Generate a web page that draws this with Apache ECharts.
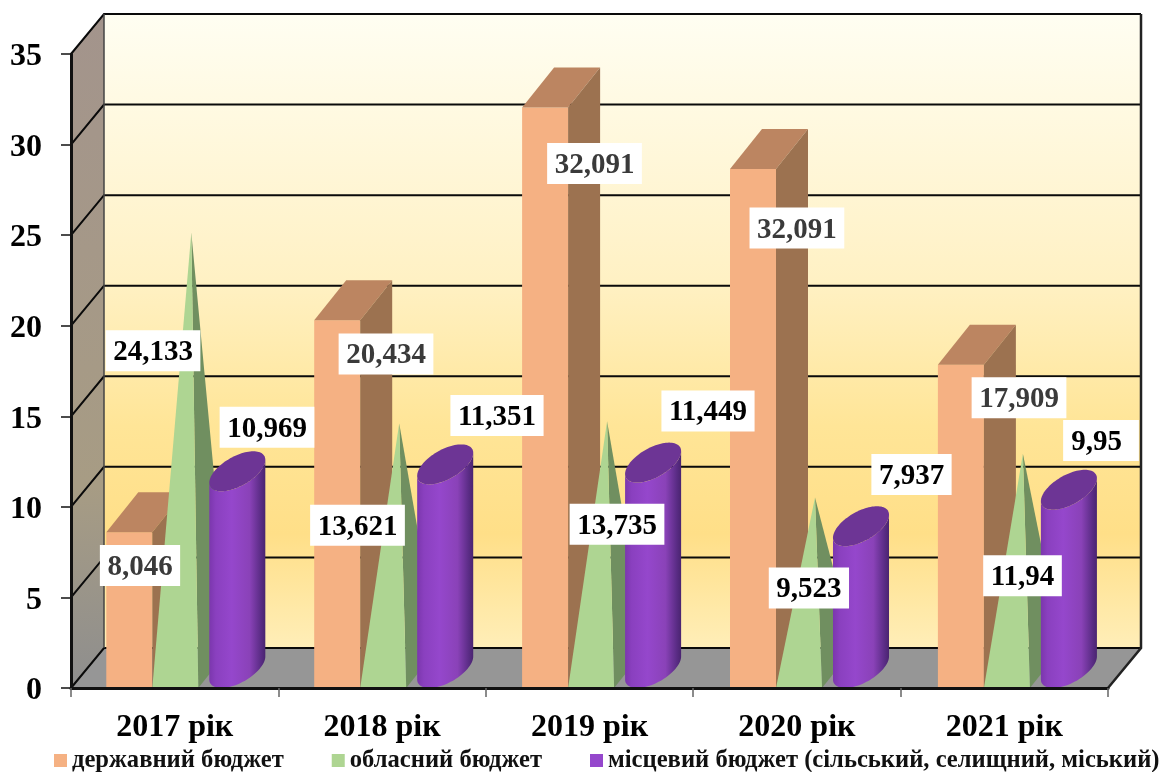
<!DOCTYPE html>
<html><head><meta charset="utf-8">
<style>html,body{margin:0;padding:0;background:#fff}#c{width:1162px;height:772px}</style>
<script src="https://cdn.jsdelivr.net/npm/echarts@6/dist/echarts.min.js"></script>
</head><body><div id="c"></div>
<script>
// ---- data ----
const categories = ['2017 рік','2018 рік','2019 рік','2020 рік','2021 рік'];
const seriesNames = ['державний бюджет','обласний бюджет','місцевий бюджет (сільський, селищний, міський)'];
const stateBudget = [8.6, 20.3, 32.05, 28.65, 17.85];
const regionalBudget = [24.133, 13.621, 13.735, 9.523, 11.94];
const localBudget = [10.969, 11.351, 11.449, 7.937, 9.95];
const stateLabels = ['8,046','20,434','32,091','32,091','17,909'];
const regionalLabels = ['24,133','13,621','13,735','9,523','11,94'];
const localLabels = ['10,969','11,351','11,449','7,937','9,95'];
const yTicks = [0,5,10,15,20,25,30,35];

// ---- layout (label offsets are from the band centre / value point) ----
const stateLabelOffset = [[-34.7,33.3],[3.9,33.7],[5,56],[0,59],[14.7,33]];
const regionalLabelOffset = [[-21.7,100],[-24.6,84],[27.5,85],[12,72.5],[18.2,104]];
const localLabelOffset = [[92.3,-62],[114.9,-67],[118.5,-69.6],[114.6,-69.7],[96.7,-67.3,17]];
const DX = 32, DY = 40, WALL_DX = 33, BAR_W = 46, LEFT_PAD = 35.3, BAND_DRIFT = 0.5;
const FONT = '"Liberation Serif","Times New Roman",serif';
const LABEL_FONT = 'bold 29px '+FONT, LABEL_BOX_H = 41, LABEL_TEXT_DROP = 2;
const measureCtx = document.createElement('canvas').getContext('2d');

function poly(points, fill){
  return {type:'polygon', shape:{points}, style:{fill}, silent:true};
}
function frame(api){
  const i = api.value(0), v = api.value(1);
  const band = api.size([1,0])[0];
  const c = api.coord([i, v]);
  const base = api.coord([i, 0]);
  return {i, v, band, cx:c[0], y:c[1], y0:base[1], left:c[0]-band/2+BAND_DRIFT*i};
}
function labelRenderer(texts, offsets, color){
  return function(params, api){
    const f = frame(api), o = offsets[f.i];
    const pr = o[2]===undefined ? 7.5 : o[2];
    const pl = o[2]===undefined ? 7.5 : 8;
    measureCtx.font = LABEL_FONT;
    const tw = measureCtx.measureText(texts[f.i]).width;
    const bw = tw+pl+pr, bx = f.cx+o[0]-bw/2, by = f.y+o[1]-LABEL_BOX_H/2;
    return {type:'group',silent:true,children:[
      {type:'rect',silent:true,shape:{x:bx,y:by,width:bw,height:LABEL_BOX_H},style:{fill:'#fff'}},
      {type:'text',silent:true,z2:1,x:bx+pl+tw/2,y:f.y+o[1]+LABEL_TEXT_DROP,style:{
        text:texts[f.i],x:0,y:0,align:'center',verticalAlign:'middle',font:LABEL_FONT,fill:color}}
    ]};
  };
}
function wallItem(params, api){
  const cs = params.coordSys;
  const x0 = cs.x, x1 = cs.x+cs.width, yb = cs.y+cs.height, yt = cs.y;
  const W = WALL_DX;
  const ch = [];
  ch.push(poly([[x0+W,yt-DY],[x1+W,yt-DY],[x1+W,yb-DY],[x0+W,yb-DY]],
    new echarts.graphic.LinearGradient(0,0,0,1,[
      {offset:0,color:'#fffef2'},{offset:0.42,color:'#fff1c4'},{offset:0.65,color:'#ffe597'},{offset:0.82,color:'#ffdf88'},{offset:1,color:'#ffeeb8'}])));
  ch.push(poly([[x0,yt],[x0+W,yt-DY],[x0+W,yb-DY],[x0,yb]],
    new echarts.graphic.LinearGradient(0,0,0,1,[
      {offset:0,color:'#a3948c'},{offset:0.7,color:'#a79c84'},{offset:1,color:'#8e8e8e'}])));
  ch.push(poly([[x0,yb],[x1,yb],[x1+W,yb-DY],[x0+W,yb-DY]],'#969696'));
  yTicks.forEach(t=>{
    const y = api.coord([0,t])[1];
    ch.push({type:'polyline',silent:true,shape:{points:[[x0,y],[x0+W,y-DY],[x1+W,y-DY]]},
      style:{stroke:'#0a0a0a',lineWidth:2,fill:'none'}});
  });
  ch.push({type:'line',silent:true,shape:{x1:x0+W,y1:yt-DY,x2:x0+W,y2:yb-DY},style:{stroke:'#444',lineWidth:1.5}});
  ch.push({type:'polyline',silent:true,shape:{points:[[x1+W,yt-DY],[x1+W,yb-DY],[x1,yb]]},style:{stroke:'#222',lineWidth:2.5,fill:'none'}});
  return {type:'group',children:ch};
}
function stateItem(params, api){
  const f = frame(api);
  const x = f.left+LEFT_PAD, r = x+BAR_W;
  return {type:'group',children:[
    poly([[x,f.y0],[r,f.y0],[r,f.y],[x,f.y]],'#f5b183'),
    poly([[x,f.y],[r,f.y],[r+DX,f.y-DY],[x+DX,f.y-DY]],'#bc8561'),
    poly([[r,f.y0],[r+DX,f.y0-DY],[r+DX,f.y-DY],[r,f.y]],'#9c7250')
  ]};
}
function regionalItem(params, api){
  const f = frame(api);
  const x = f.left+LEFT_PAD+BAR_W, r = x+BAR_W;
  const ax = x+(BAR_W+DX)/2, ay = f.y-DY/2+2;
  return {type:'group',children:[
    poly([[r,f.y0],[r+DX,f.y0-DY],[ax,ay]],'#708f60'),
    poly([[x,f.y0],[r,f.y0],[ax,ay]],'#aed592')
  ]};
}
function ellipsePts(cx,cy,a,bx,by,from,to,n){
  const pts=[];
  for(let k=0;k<=n;k++){
    const t=from+(to-from)*k/n;
    pts.push([cx+a*Math.cos(t)+bx*Math.sin(t), cy+by*Math.sin(t)]);
  }
  return pts;
}
function localItem(params, api){
  const f = frame(api);
  const x = f.left+LEFT_PAD+2*BAR_W;
  const cx = x+(BAR_W+DX)/2;
  const a = BAR_W/2, bx = DX/2, by = -DY/2;
  const cyB = f.y0-DY/2, cyT = f.y-DY/2+2;
  const t0 = Math.atan2(bx,a);
  const lower = ellipsePts(cx,cyB,a,bx,by,t0,t0-Math.PI,48);
  const upper = ellipsePts(cx,cyT,a,bx,by,t0-Math.PI,t0,48);
  const grad = new echarts.graphic.LinearGradient(0,0,1,0,[
    {offset:0,color:'#7b37ad'},{offset:0.12,color:'#8a40bf'},{offset:0.4,color:'#9547cc'},
    {offset:0.72,color:'#8a42b8'},{offset:0.92,color:'#5a2c85'},{offset:1,color:'#4a2470'}]);
  return {type:'group',children:[
    poly(lower.concat(upper),grad),
    poly(ellipsePts(cx,cyT,a,bx,by,0,Math.PI*2,96),'#6d3595')
  ]};
}
const toData = arr => arr.map((v,i)=>[i,v]);
const chart = echarts.init(document.getElementById('c'));
chart.setOption({
  animation:false,
  backgroundColor:'#fff',
  textStyle:{fontFamily:FONT},
  grid:{left:71,right:54,top:54,bottom:84,containLabel:false},
  legend:{
    data:seriesNames, left:54, top:748, padding:0, itemGap:48, itemWidth:13, itemHeight:13,
    icon:'rect', selectedMode:false,
    textStyle:{fontFamily:FONT,fontWeight:'bold',fontSize:24.6,color:'#111',padding:[4,0,0,0]}
  },
  xAxis:{type:'category',data:categories,boundaryGap:true,z:10,
    axisLine:{show:true,lineStyle:{color:'#111',width:3}},
    axisTick:{show:true,length:9,lineStyle:{color:'#666',width:1.5}},
    axisLabel:{fontFamily:FONT,fontWeight:'bold',fontSize:32,color:'#000',margin:24},
    splitLine:{show:false}},
  yAxis:{type:'value',min:0,max:35,interval:5,z:10,
    axisLine:{show:true,lineStyle:{color:'#111',width:3}},
    axisTick:{show:true,length:10,lineStyle:{color:'#111',width:1.5}},
    axisLabel:{fontFamily:FONT,fontWeight:'bold',fontSize:32,color:'#000',margin:29,verticalAlign:'top',lineHeight:6},
    splitLine:{show:false}},
  series:[
    {type:'custom',name:'wall',z:1,silent:true,data:[[0,0]],encode:{x:0,y:1},renderItem:wallItem},
    {type:'custom',name:seriesNames[0],z:2,silent:true,itemStyle:{color:'#f5b183'},data:toData(stateBudget),encode:{x:0,y:1},renderItem:stateItem},
    {type:'custom',name:seriesNames[1],z:3,silent:true,itemStyle:{color:'#aed592'},data:toData(regionalBudget),encode:{x:0,y:1},renderItem:regionalItem},
    {type:'custom',name:seriesNames[2],z:4,silent:true,itemStyle:{color:'#9547cc'},data:toData(localBudget),encode:{x:0,y:1},renderItem:localItem},
    {type:'custom',name:'state labels',z:5,silent:true,data:toData(stateBudget),encode:{x:0,y:1},renderItem:labelRenderer(stateLabels,stateLabelOffset,'#3a3a3a')},
    {type:'custom',name:'regional labels',z:5,silent:true,data:toData(regionalBudget),encode:{x:0,y:1},renderItem:labelRenderer(regionalLabels,regionalLabelOffset,'#000')},
    {type:'custom',name:'local labels',z:5,silent:true,data:toData(localBudget),encode:{x:0,y:1},renderItem:labelRenderer(localLabels,localLabelOffset,'#000')}
  ]
});
</script></body></html>
